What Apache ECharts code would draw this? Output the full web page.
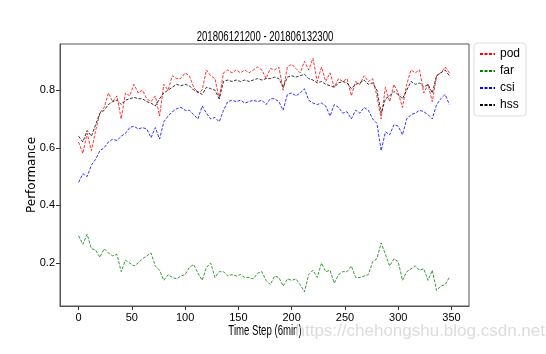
<!DOCTYPE html>
<html>
<head>
<meta charset="utf-8">
<script src="https://cdn.jsdelivr.net/npm/echarts@6/dist/echarts.min.js"></script>
<style>
  html, body { margin: 0; padding: 0; background: #fff; }
  #main { width: 546px; height: 354px; }
</style>
</head>
<body>
<div id="main"></div>
<script>
"use strict";

const timeStep = [0, 4, 8, 12, 16, 20, 24, 28, 32, 36, 40, 44, 48, 52, 56, 60, 64, 68, 72, 76,
    80, 84, 88, 92, 96, 100, 104, 108, 112, 116, 120, 124, 128, 132, 136, 140, 144, 148, 152, 156,
    160, 164, 168, 172, 176, 180, 184, 188, 192, 196, 200, 204, 208, 212, 216, 220, 224, 228, 232, 236,
    240, 244, 248, 252, 256, 260, 264, 268, 272, 276, 280, 284, 288, 292, 296, 300, 304, 308, 312, 316,
    320, 324, 328, 332, 336, 340, 344, 348];

const pod = [0.62, 0.58, 0.65, 0.59, 0.66, 0.72, 0.74, 0.79, 0.76, 0.78, 0.70, 0.79, 0.78, 0.82, 0.79, 0.80, 0.77, 0.76, 0.78, 0.71,
    0.82, 0.80, 0.85, 0.84, 0.84, 0.86, 0.85, 0.81, 0.79, 0.80, 0.87, 0.85, 0.84, 0.77, 0.86, 0.87, 0.86, 0.87, 0.86, 0.87,
    0.86, 0.87, 0.88, 0.87, 0.84, 0.875, 0.87, 0.88, 0.80, 0.88, 0.89, 0.875, 0.86, 0.90, 0.87, 0.91, 0.83, 0.88, 0.83, 0.86,
    0.81, 0.84, 0.83, 0.84, 0.78, 0.83, 0.82, 0.85, 0.83, 0.84, 0.78, 0.70, 0.81, 0.76, 0.82, 0.79, 0.74, 0.82, 0.87, 0.86,
    0.87, 0.79, 0.82, 0.76, 0.85, 0.86, 0.88, 0.86];

const far = [0.295, 0.265, 0.30, 0.25, 0.245, 0.22, 0.25, 0.235, 0.225, 0.23, 0.17, 0.21, 0.20, 0.19, 0.20, 0.215, 0.225, 0.235, 0.19, 0.175,
    0.14, 0.16, 0.15, 0.145, 0.155, 0.16, 0.185, 0.195, 0.165, 0.14, 0.185, 0.20, 0.15, 0.17, 0.17, 0.155, 0.16, 0.155, 0.16, 0.15,
    0.15, 0.145, 0.165, 0.17, 0.14, 0.125, 0.155, 0.15, 0.12, 0.145, 0.14, 0.145, 0.125, 0.10, 0.16, 0.175, 0.15, 0.20, 0.17, 0.175,
    0.13, 0.16, 0.17, 0.17, 0.19, 0.15, 0.15, 0.155, 0.16, 0.205, 0.215, 0.27, 0.23, 0.19, 0.215, 0.205, 0.14, 0.17, 0.18, 0.19,
    0.175, 0.18, 0.14, 0.175, 0.105, 0.12, 0.125, 0.15];

const csi = [0.48, 0.51, 0.50, 0.54, 0.56, 0.59, 0.60, 0.62, 0.63, 0.625, 0.64, 0.65, 0.67, 0.675, 0.665, 0.67, 0.665, 0.635, 0.67, 0.63,
    0.69, 0.71, 0.725, 0.735, 0.74, 0.73, 0.73, 0.715, 0.70, 0.745, 0.72, 0.70, 0.705, 0.69, 0.73, 0.76, 0.765, 0.76, 0.765, 0.755,
    0.76, 0.765, 0.76, 0.765, 0.75, 0.77, 0.77, 0.76, 0.73, 0.785, 0.79, 0.78, 0.79, 0.805, 0.765, 0.755, 0.75, 0.755, 0.745, 0.71,
    0.75, 0.74, 0.72, 0.725, 0.70, 0.73, 0.72, 0.74, 0.73, 0.70, 0.685, 0.59, 0.655, 0.645, 0.68, 0.675, 0.645, 0.70, 0.715, 0.72,
    0.73, 0.725, 0.715, 0.70, 0.75, 0.77, 0.785, 0.75];

const hss = [0.64, 0.62, 0.66, 0.64, 0.68, 0.72, 0.73, 0.75, 0.76, 0.765, 0.75, 0.765, 0.77, 0.775, 0.77, 0.77, 0.76, 0.755, 0.745, 0.77,
    0.79, 0.80, 0.81, 0.82, 0.815, 0.82, 0.815, 0.80, 0.795, 0.785, 0.81, 0.805, 0.80, 0.77, 0.83, 0.835, 0.83, 0.835, 0.83, 0.835,
    0.83, 0.835, 0.84, 0.835, 0.84, 0.84, 0.845, 0.84, 0.81, 0.845, 0.85, 0.845, 0.85, 0.855, 0.84, 0.835, 0.825, 0.83, 0.82, 0.815,
    0.81, 0.825, 0.83, 0.825, 0.805, 0.82, 0.825, 0.835, 0.82, 0.825, 0.80, 0.72, 0.77, 0.78, 0.795, 0.785, 0.77, 0.80, 0.83, 0.82,
    0.825, 0.81, 0.82, 0.79, 0.85, 0.86, 0.87, 0.85];

const xTicks = [0, 50, 100, 150, 200, 250, 300, 350];
const yTicks = [0.2, 0.4, 0.6, 0.8];

const sans = '"Liberation Sans", Arial, sans-serif';

function makeSeries(name, values, color) {
    return {
        name: name,
        type: 'line',
        data: values.map(function (v, i) { return [timeStep[i], v]; }),
        showSymbol: false,
        symbol: 'none',
        animation: false,
        lineStyle: { color: color, width: 0.8, type: [3, 1.5] },
        itemStyle: { color: color }
    };
}

// squeezed text (the source picture was narrowed horizontally)
function squeezedText(str, x, y, size, sx) {
    return {
        type: 'text',
        x: x,
        y: y,
        scaleX: sx,
        silent: true,
        style: {
            text: str, align: 'center', verticalAlign: 'middle',
            fontFamily: sans, fontSize: size, fill: '#000'
        }
    };
}

let myChart = echarts.init(document.getElementById('main'));

let option = {
    backgroundColor: '#fff',
    legend: {
        orient: 'vertical',
        left: 474,
        top: 43,
        itemWidth: 15,
        itemHeight: 8,
        itemGap: 5,
        padding: [5, 6, 5, 5],
        borderColor: '#ddd',
        borderWidth: 1,
        borderRadius: 3,
        itemStyle: { opacity: 0 },
        textStyle: { fontFamily: sans, fontSize: 12, color: '#000' },
        data: ['pod', 'far', 'csi', 'hss']
    },
    grid: {
        left: 60, right: 77, top: 44, bottom: 48,
        show: true, borderColor: '#555', borderWidth: 1
    },
    xAxis: {
        type: 'value',
        min: -17.45,
        max: 366.45,
        axisLine: { show: true, onZero: false, lineStyle: { color: '#555' } },
        axisTick: { show: true, length: 4, customValues: xTicks, lineStyle: { color: '#333' } },
        axisLabel: { customValues: xTicks, fontFamily: sans, fontSize: 11, color: '#000', margin: 6 },
        splitLine: { show: false }
    },
    yAxis: {
        type: 'value',
        min: 0.051,
        max: 0.96,
        name: 'Performance',
        nameLocation: 'middle',
        nameGap: 22,
        nameMoveOverlap: false,
        nameTextStyle: { fontFamily: 'DejaVu Sans', fontSize: 12, color: '#000' },
        axisLine: { show: true, onZero: false, lineStyle: { color: '#555' } },
        axisTick: { show: true, length: 4, customValues: yTicks, lineStyle: { color: '#333' } },
        axisLabel: {
            customValues: yTicks, fontFamily: sans, fontSize: 11, color: '#000', margin: 5,
            formatter: function (v) { return v.toFixed(1); }
        },
        splitLine: { show: false }
    },
    graphic: [
        squeezedText('201806121200 - 201806132300', 265, 37, 15, 0.64),
        squeezedText('Time Step (6min)', 265, 331, 15, 0.64),
        {
            type: 'text',
            right: 1,
            top: 323,
            silent: true,
            style: {
                text: 'https://chehongshu.blog.csdn.net',
                fontFamily: sans,
                fontSize: 17,
                fill: '#dcdcdc'
            }
        }
    ],
    series: [
        makeSeries('pod', pod, '#ff0000'),
        makeSeries('far', far, '#008000'),
        makeSeries('csi', csi, '#0000ff'),
        makeSeries('hss', hss, '#000000')
    ]
};

myChart.setOption(option);

window.addEventListener('resize', function () {
    myChart.resize();
});
</script>
</body>
</html>
